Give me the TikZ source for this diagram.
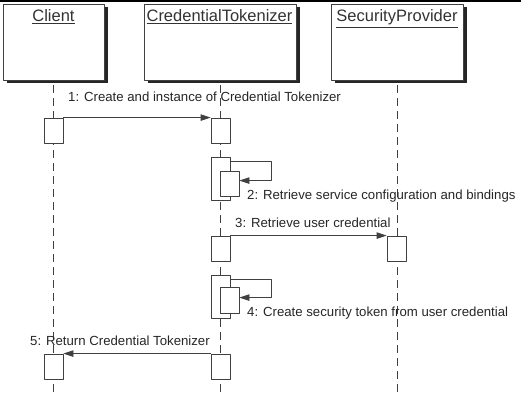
\documentclass[tikz,border=0pt]{standalone}
\usepackage{fontspec}
\setmainfont{Liberation Sans}
\usetikzlibrary{arrows.meta}
\usetikzlibrary{calc}

\begin{document}
\begin{tikzpicture}[line cap=round,line join=round,>={Triangle[length=10pt,width=6.5pt]},x=1pt,y=-1pt,
  obj/.style={draw=black!75,fill=white,line width=0.8pt,minimum width=#1,minimum height=76pt,inner sep=0pt},
  objshade/.style={fill=black!85},
  objname/.style={text=black!80,font=\fontsize{16.5}{19}\selectfont,inner sep=0pt,anchor=base},
  life/.style={draw=black!75,line width=0.8pt,dash pattern=on 8pt off 5pt,line cap=butt},
  act/.style={draw=black!75,fill=white,line width=0.8pt,minimum width=19pt,minimum height=#1,inner sep=0pt},
  msg/.style={->,draw=black!75,line width=0.8pt},
  lbl/.style={text=black!85,font=\fontsize{13.2}{15}\selectfont,inner sep=0pt,anchor=base west}]
\useasboundingbox (0,0) rectangle (521,403);
\draw[line width=2pt,line cap=butt] (0,1)--(521,1);
%
\fill[objshade] (6.5,7.5) rectangle (107.5,83.5);
\fill[objshade] (148,7.5) rectangle (300,83.5);
\fill[objshade] (334.5,7.5) rectangle (466.5,83.5);
\node[obj=101pt] (client) at (53.5,42) {};
\node[obj=152pt] (tokenizer) at (220.5,42) {};
\node[obj=132pt] (provider) at (397,42) {};
\node[objname] (clientname) at (53.5,22) {\underline{Client}};
\node[objname] (tokenizername) at (219.5,22) {\underline{CredentialTokenizer}};
\node[objname] (providername) at (397,22) {\underline{SecurityProvider}};
%
\coordinate (clientend) at (53.5,397);
\coordinate (tokenizerend) at (220.5,397);
\coordinate (providerend) at (397,397);
\draw[life] ([yshift=-5pt]client.south) -- (clientend);
\draw[life] ([yshift=-5pt]tokenizer.south) -- (tokenizerend);
\draw[life] ([yshift=-5pt]provider.south) -- (providerend);
%
\node[act=25pt] (a1c) at (53.5,130.5) {};
\node[act=25pt] (a1t) at (220.5,130.5) {};
\node[act=43pt] (a2t) at (220.5,178.5) {};
\node[act=25pt] (a2n) at (229.5,183.5) {};
\node[act=25pt] (a3t) at (220.5,248.5) {};
\node[act=25pt] (a3p) at (396.5,248.5) {};
\node[act=43pt] (a4t) at (220.5,296.5) {};
\node[act=26pt] (a4n) at (229.5,300) {};
\node[act=25pt] (a5c) at (53.5,366.5) {};
\node[act=25pt] (a5t) at (220.5,366.5) {};
%
\draw[msg] (a1c.north east) -- (a1t.north west);
\draw[msg] ($(a2t.north east)+(0,5)$) -- ++(41,0) |- ($(a2n.north east)+(0,10)$);
\draw[msg] (a3t.north east) -- (a3p.north west);
\draw[msg] ($(a4t.north east)+(0,5)$) -- ++(41,0) |- ($(a4n.north east)+(0,11)$);
\draw[msg] (a5t.north west) -- (a5c.north east);
%
\node[lbl] (m1) at (68,101.5) {1: Create and instance of Credential Tokenizer};
\node[lbl] (m2) at (247,200) {2: Retrieve service configuration and bindings};
\node[lbl] (m3) at (235,227) {3: Retrieve user credential};
\node[lbl] (m4) at (247,316.5) {4: Create security token from user credential};
\node[lbl] (m5) at (30,345.5) {5: Return Credential Tokenizer};
\end{tikzpicture}
\end{document}
